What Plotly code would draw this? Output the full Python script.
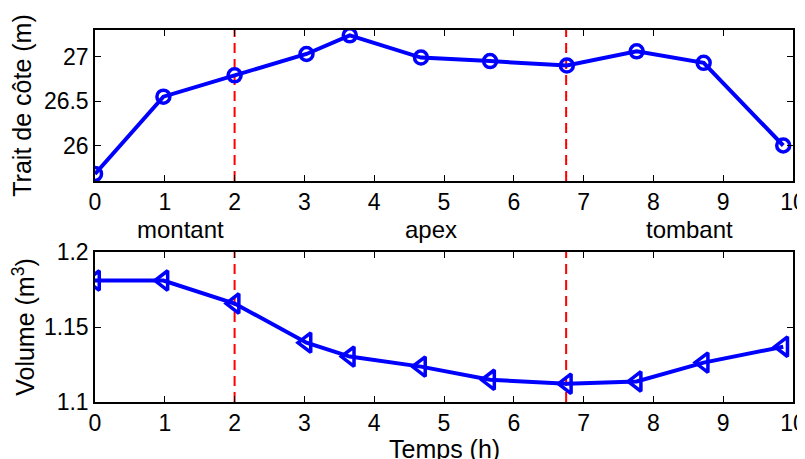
"""Trait de côte et volume au cours d'une marée."""
import plotly.graph_objects as go
from plotly.subplots import make_subplots

# time (h)
temps = [0, 0.98, 2.0, 3.03, 3.65, 4.67, 5.66, 6.76, 7.76, 8.72, 9.86]
# shoreline position (m)
trait_cote = [25.68, 26.55, 26.79, 27.03, 27.24, 26.99, 26.95, 26.90, 27.06, 26.93, 26.00]
# sediment volume (m^3)
volume = [1.181, 1.181, 1.1657, 1.1396, 1.1303, 1.1236, 1.1148, 1.1122, 1.1137, 1.1263, 1.1369]

phase_limits = [2.0, 6.75]
phase_names = ["montant", "apex", "tombant"]
phase_label_x = [1.23, 4.81, 8.51]

FONT = "Liberation Sans, Arial, sans-serif"
BLUE = "#0000FF"

fig = make_subplots(rows=2, cols=1, shared_xaxes=False, vertical_spacing=0.19)

fig.add_trace(
    go.Scatter(
        x=temps,
        y=trait_cote,
        mode="lines+markers",
        line=dict(color=BLUE, width=4),
        marker=dict(symbol="circle-open", size=13, color=BLUE, line=dict(width=3.5, color=BLUE)),
        showlegend=False,
    ),
    row=1, col=1,
)
fig.add_trace(
    go.Scatter(
        x=temps,
        y=volume,
        mode="lines+markers",
        line=dict(color=BLUE, width=4),
        marker=dict(symbol="triangle-left-open", size=17, color=BLUE, line=dict(width=3.5, color=BLUE)),
        showlegend=False,
    ),
    row=2, col=1,
)

# phase boundaries
for xref, yref in [("x", "y domain"), ("x2", "y2 domain")]:
    for xv in phase_limits:
        fig.add_shape(
            type="line", xref=xref, yref=yref,
            x0=xv, x1=xv, y0=0, y1=1,
            line=dict(color="#FF0000", width=2, dash="10px,6px"),
            layer="below",
        )

for name, xv in zip(phase_names, phase_label_x):
    fig.add_annotation(
        x=xv, xref="x", y=0.463, yref="paper",
        text=name, showarrow=False,
        font=dict(family=FONT, size=24, color="black"),
    )

# x axis title, placed by hand so it sits below the tick labels
fig.add_annotation(
    x=0.5, xref="paper", y=-0.083, yref="paper", yanchor="top",
    text="Temps (h)", showarrow=False,
    font=dict(family=FONT, size=25, color="black"),
)

axis_style = dict(
    showline=True, linecolor="black", linewidth=1.5, mirror="ticks",
    ticks="inside", ticklen=6, tickcolor="black", tickwidth=1,
    showgrid=False, zeroline=False, automargin=False,
    ticklabeloverflow="allow",
    tickfont=dict(family=FONT, size=23, color="black"),
)

fig.update_xaxes(range=[0, 10], tickvals=list(range(11)), **axis_style)
fig.update_yaxes(**axis_style)

fig.update_yaxes(
    range=[25.60, 27.30], tickvals=[26, 26.5, 27], ticktext=["26", "26.5", "27"],
    title=dict(text="Trait de côte (m)", font=dict(family=FONT, size=25), standoff=10),
    domain=[0.594, 1.0], row=1, col=1,
)
fig.update_yaxes(
    range=[1.1, 1.2], tickvals=[1.1, 1.15, 1.2], ticktext=["1.1", "1.15", "1.2"],
    title=dict(text="Volume (m<sup>3</sup>)", font=dict(family=FONT, size=25), standoff=10),
    domain=[0.0, 0.403], row=2, col=1,
)

# the page body adds an 8 px margin, so the figure starts 8 px in from the window corner
fig.update_layout(
    width=797,
    height=451,
    margin=dict(l=87, r=12, t=22, b=57),
    paper_bgcolor="white",
    plot_bgcolor="white",
    font=dict(family=FONT, color="black"),
)

fig.write_html("out.html")
